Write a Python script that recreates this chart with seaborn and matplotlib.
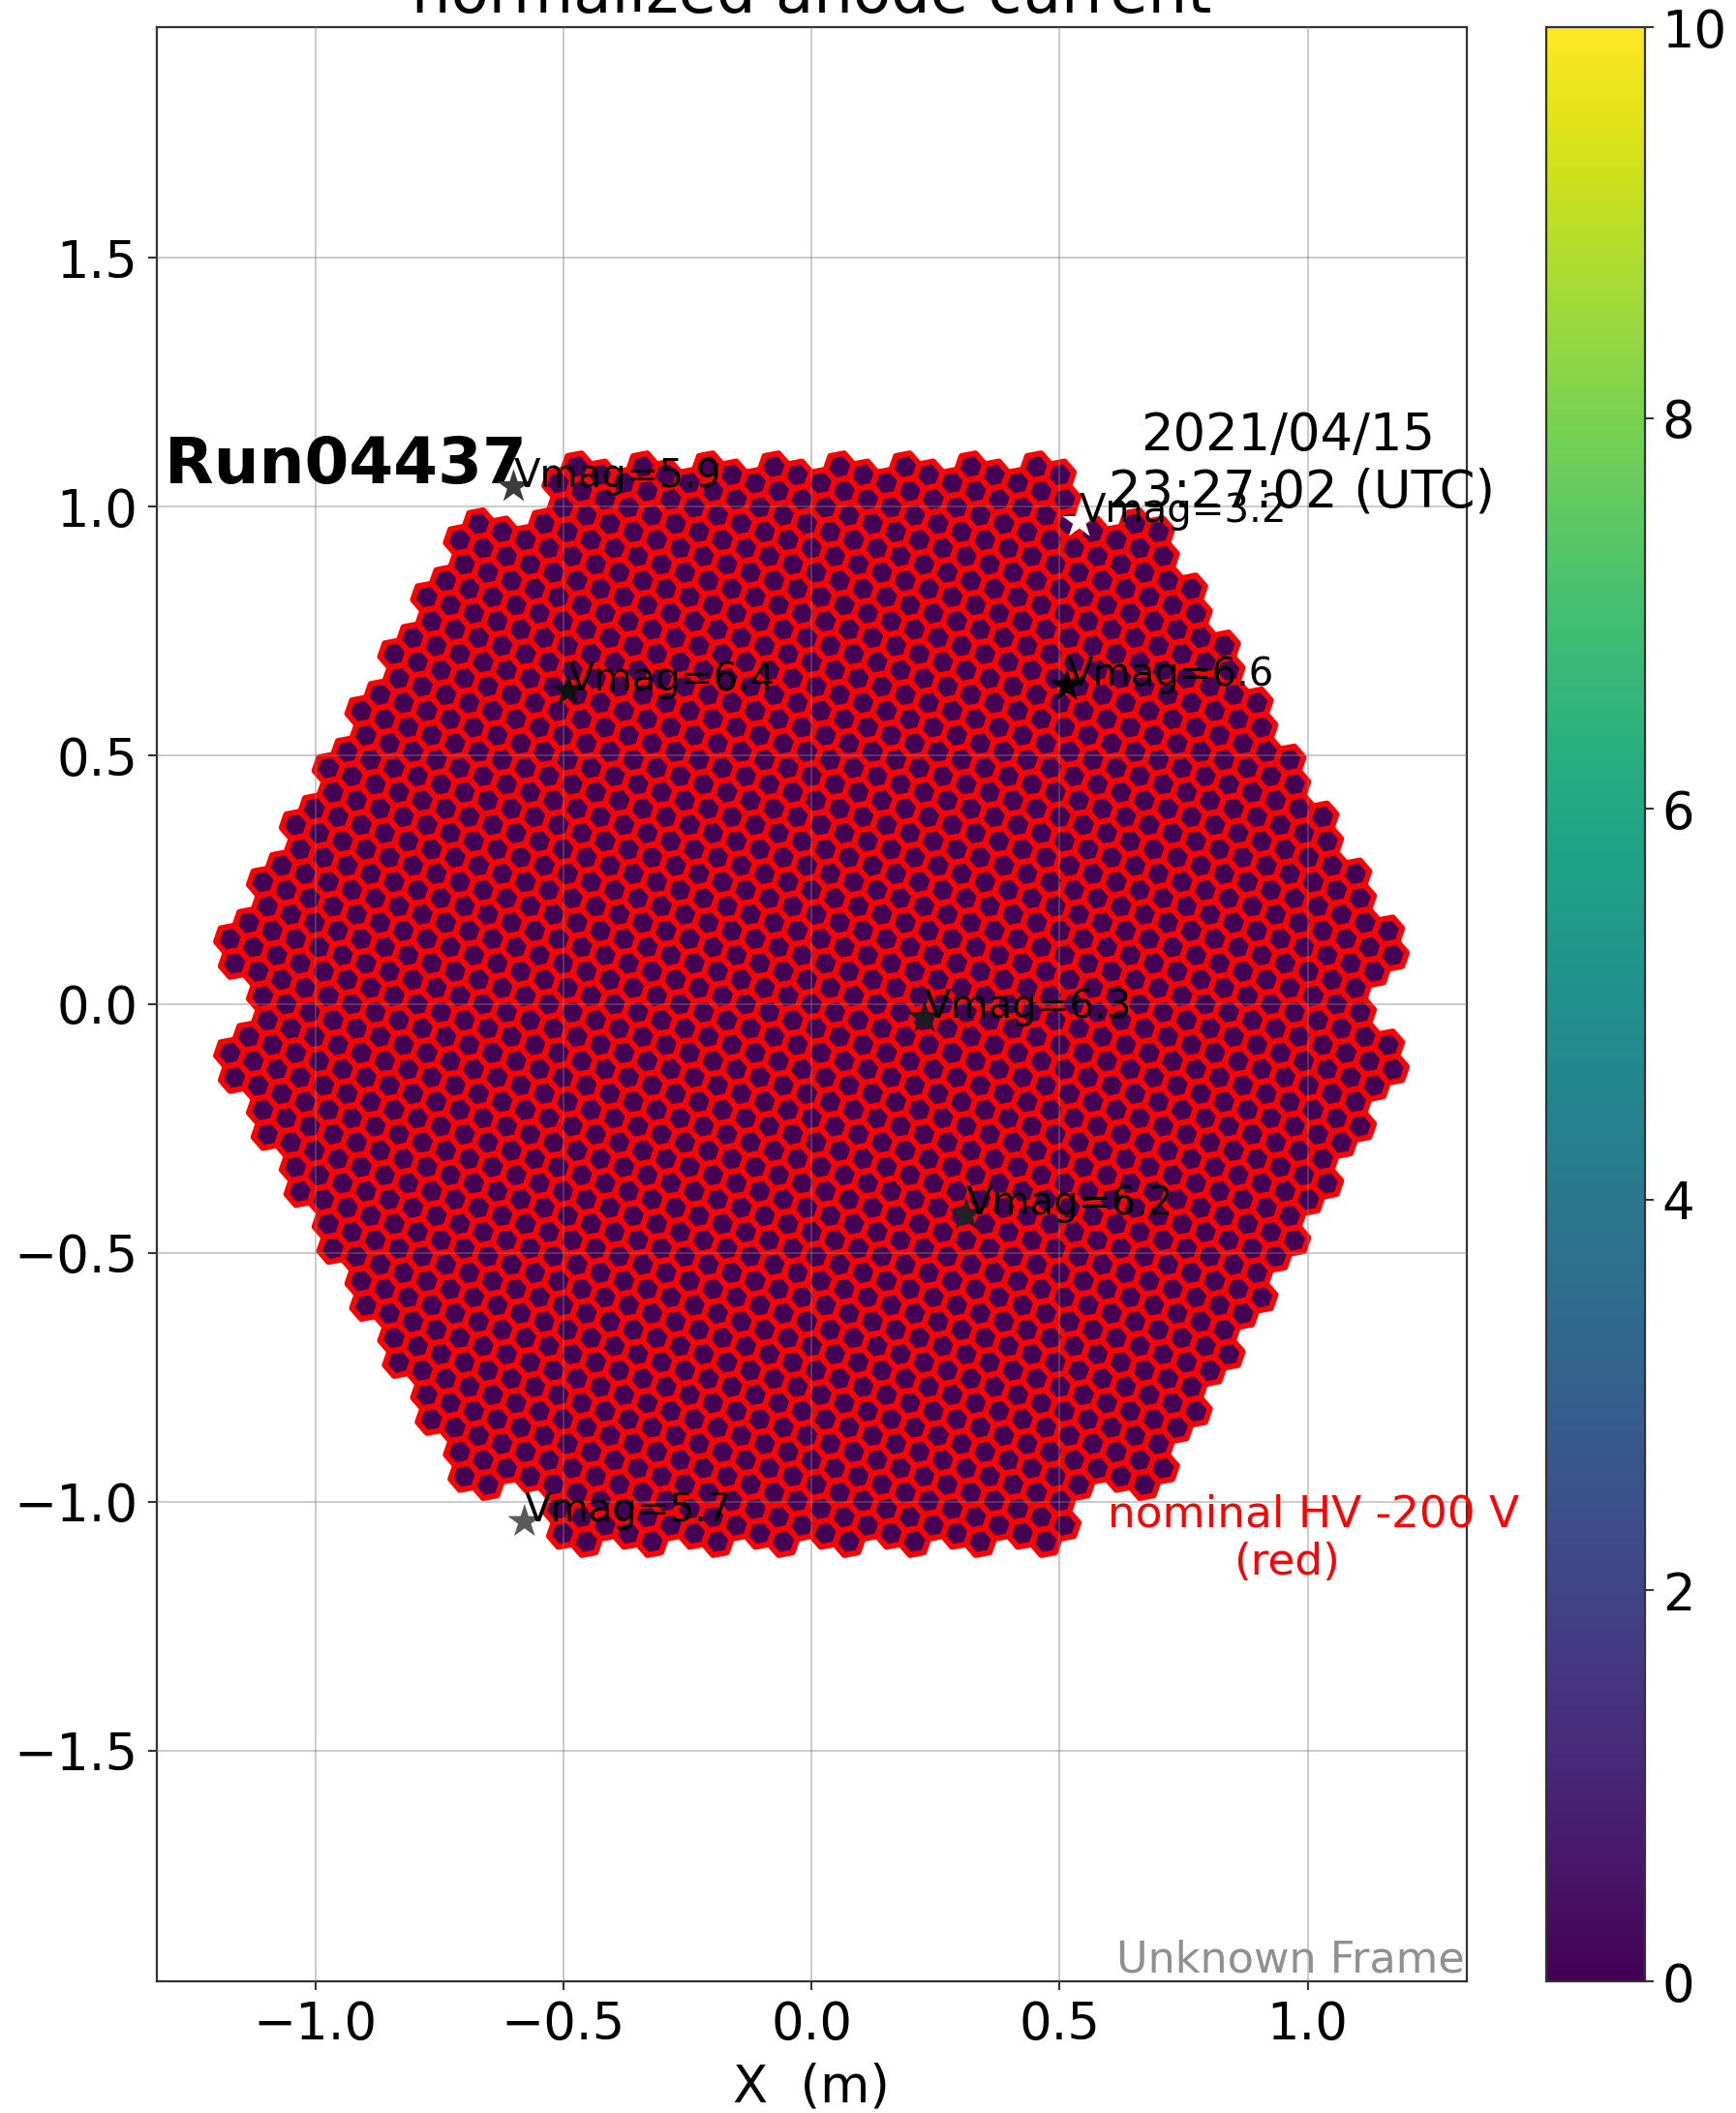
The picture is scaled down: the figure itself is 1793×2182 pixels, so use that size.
import numpy as np
import pandas as pd
import matplotlib
matplotlib.use("Agg")
import matplotlib.pyplot as plt
import seaborn as sns
from matplotlib.cm import ScalarMappable
from matplotlib.colors import Normalize
from matplotlib.markers import MarkerStyle
from matplotlib.transforms import Affine2D

# Camera layout: modules of 7 pixels, number of modules in each row (top to bottom)
module_row_counts = [8, 11, 12, 13, 14, 15, 16, 17, 18, 17, 18, 17, 16, 15, 14, 13, 12, 11, 8]
pixel_pitch = 0.05
lattice_angle = -19.107
anode_current = 0.03

# Stars
star_x = [-0.600, 0.540, -0.490, 0.515, 0.228, 0.312, -0.578]
star_y = [1.040, 0.970, 0.630, 0.640, -0.027, -0.423, -1.040]
star_vmag = [5.9, 3.2, 6.4, 6.6, 6.3, 6.2, 5.7]
star_gray = ["#3c3c3c", "#ffffff", "#101010", "#000000", "#1c1c1c", "#222222", "#5a5a5a"]

x_ticks = [-1.0, -0.5, 0.0, 0.5, 1.0]
y_ticks = [-1.5, -1.0, -0.5, 0.0, 0.5, 1.0, 1.5]
cbar_ticks = [0, 2, 4, 6, 8, 10]

W, H = 1793, 2182


def camera_pixels():
    # pixel neighbours in the tilted lattice
    angles = np.radians(lattice_angle + 60 * np.arange(6))
    flower = np.vstack([[0, 0], np.column_stack([np.cos(angles), np.sin(angles)]) * pixel_pitch])
    step = pixel_pitch * np.sqrt(7)
    rows = len(module_row_counts)
    points = []
    for i, n in enumerate(module_row_counts):
        my = ((rows - 1) / 2 - i) * step * np.sqrt(3) / 2
        for mx in (np.arange(n) - (n - 1) / 2) * step:
            points.append(flower + [mx, my])
    points = np.vstack(points)
    return pd.DataFrame({"x": points[:, 0], "y": points[:, 1], "current": anode_current})


def main():
    sns.set_theme(style="ticks", rc={"axes.edgecolor": "#333333", "axes.linewidth": 1.6,
                                     "text.color": "black", "axes.labelcolor": "black",
                                     "xtick.labelcolor": "black", "ytick.labelcolor": "black"})
    plt.rcParams["font.family"] = ["DejaVu Sans"]

    fig = plt.figure(figsize=(W / 100, H / 100), dpi=100, facecolor="white")
    ax = fig.add_axes([161.5 / W, 1 - 2046 / H, (1514.6 - 161.5) / W, (2046 - 28) / H])
    cax = fig.add_axes([1597.3 / W, 1 - 2046 / H, (1699 - 1597.3) / W, (2046 - 28) / H])

    df = camera_pixels()
    hexagon = MarkerStyle("H", transform=Affine2D().rotate_deg(10.893))
    sns.scatterplot(data=df, x="x", y="y", hue="current", palette="viridis", hue_norm=(0, 10),
                    marker=hexagon, s=454, edgecolor="red", linewidth=4.3, legend=False, ax=ax)

    sns.scatterplot(x=star_x, y=star_y, hue=star_vmag, palette=dict(zip(star_vmag, star_gray)),
                    marker="*", s=700, linewidth=0, legend=False, ax=ax, zorder=4)
    for sx, sy, m in zip(star_x, star_y, star_vmag):
        ax.text(sx, sy, f"Vmag={m}", fontsize=29, color="black", va="baseline", zorder=5)

    ax.set_xlim(-1.32, 1.32)
    ax.set_ylim(-1.964, 1.964)
    ax.set_xticks(x_ticks)
    ax.set_yticks(y_ticks)
    ax.set_axisbelow(False)
    ax.grid(True, color="gray", alpha=0.4, linewidth=1.5)
    ax.tick_params(labelsize=38, length=6.7, width=1.5, color="#333333", pad=7)
    ax.set_title("normalized anode current", fontsize=46.1, pad=11)
    ax.set_xlabel("X  (m)", fontsize=38, labelpad=9)
    ax.set_ylabel("")

    ax.text(-1.303, 1.083, "Run04437", fontsize=47.5, fontweight="bold", va="center", ha="left")
    ax.text(0.961, 1.143, "2021/04/15", fontsize=38, ha="center", va="center")
    ax.text(0.988, 1.029, "23:27:02 (UTC)", fontsize=38, ha="center", va="center")
    ax.text(1.011, -1.025, "nominal HV -200 V", fontsize=32.7, color="red", ha="center", va="center")
    ax.text(0.958, -1.123, "(red)", fontsize=32.7, color="red", ha="center", va="center")
    ax.text(0.999, 0.0045, "Unknown Frame", fontsize=32.1, color="#909090", ha="right", va="baseline",
            transform=ax.transAxes)

    cbar = fig.colorbar(ScalarMappable(norm=Normalize(0, 10), cmap="viridis"), cax=cax)
    cbar.set_ticks(cbar_ticks)
    cbar.ax.tick_params(labelsize=38, length=6.7, width=1.5, color="#333333", pad=6)
    cbar.outline.set_linewidth(1.6)

    fig.savefig("out.png", dpi=100)


if __name__ == "__main__":
    main()
